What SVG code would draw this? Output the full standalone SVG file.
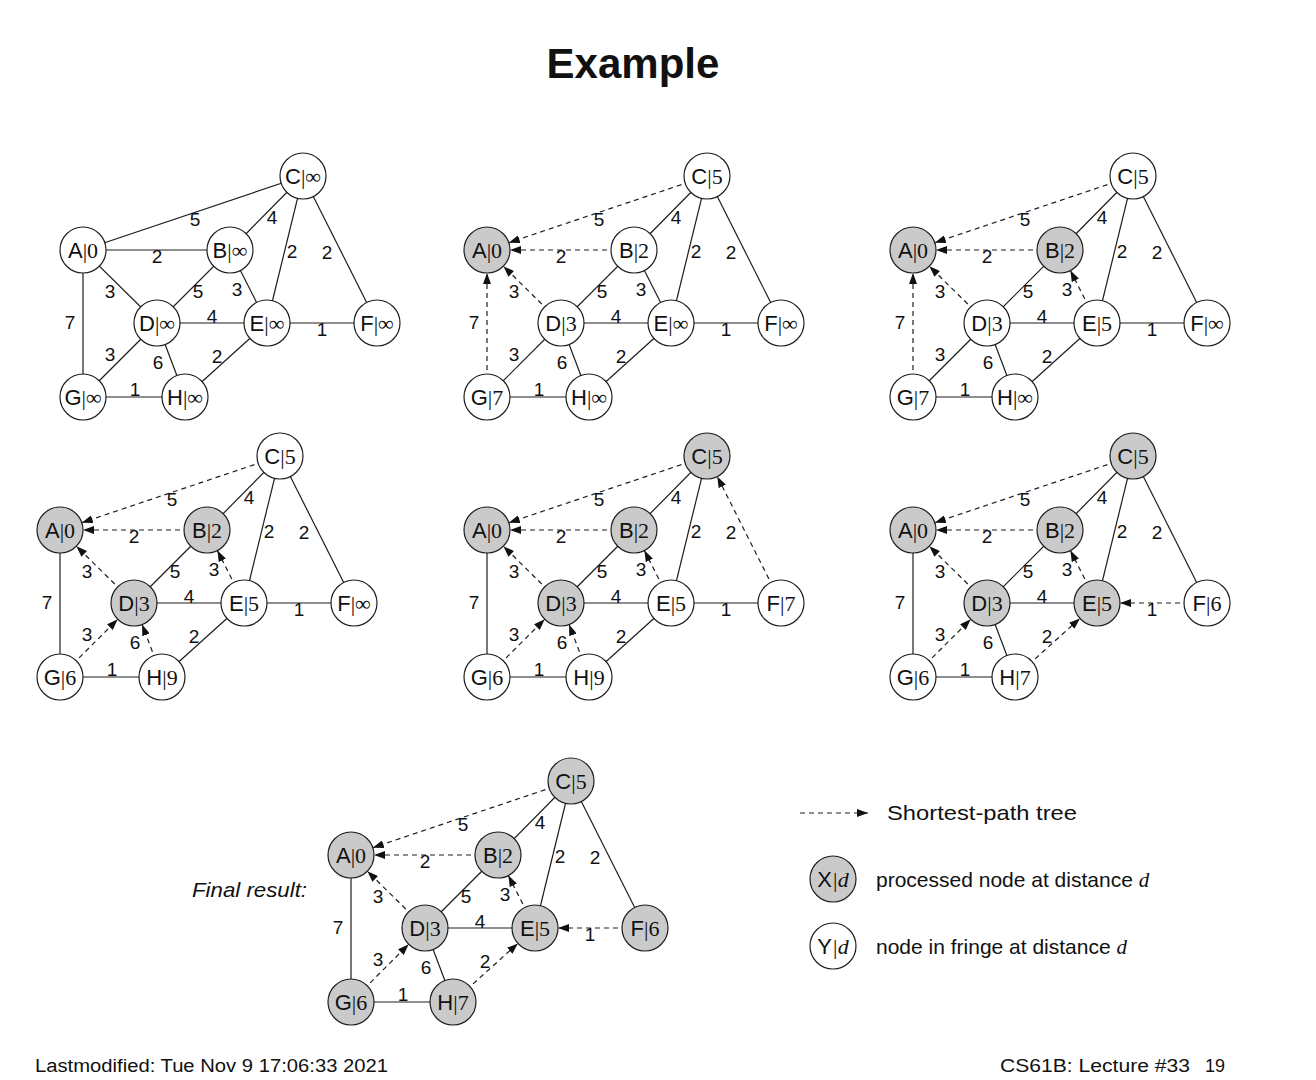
<svg xmlns="http://www.w3.org/2000/svg" width="1316" height="1080" viewBox="0 0 1316 1080">
<style>
.e{stroke:#1e1e1e;stroke-width:1.2;fill:none}
.d{stroke:#1e1e1e;stroke-width:1.2;fill:none;stroke-dasharray:5 4;marker-end:url(#ah)}
.n circle{stroke:#1e1e1e;stroke-width:1.2;fill:#ffffff}
.p circle{fill:#cacaca}
.w{font-family:"Liberation Sans",Arial,sans-serif;font-size:19px;text-anchor:middle;fill:#111}
.l{font-family:"Liberation Sans",Arial,sans-serif;font-size:22px;text-anchor:middle;fill:#111}
.s{font-family:"Liberation Serif","Times New Roman",serif}
.t{font-family:"Liberation Sans",Arial,sans-serif;fill:#111}
</style>
<defs>
<marker id="ah" markerUnits="userSpaceOnUse" markerWidth="12" markerHeight="8" refX="11" refY="4" orient="auto"><path d="M0,0 L11,4 L0,8 z" fill="#111"/></marker>
</defs>
<rect width="1316" height="1080" fill="#ffffff"/>
<text x="633" y="78" class="t" font-size="42" font-weight="bold" text-anchor="middle">Example</text>

<!-- Graph 1 -->
<g id="graph1" transform="translate(0,0)">
<g id="g1-connectors">
<path class="e" d="M83,250 L303,176"/><path class="e" d="M303,176 L230,250"/><path class="e" d="M83,250 L230,250"/><path class="e" d="M303,176 L267,323"/><path class="e" d="M303,176 L377,323"/><path class="e" d="M83,250 L157,323"/><path class="e" d="M230,250 L157,323"/><path class="e" d="M230,250 L267,323"/><path class="e" d="M83,250 L83,397"/><path class="e" d="M157,323 L267,323"/><path class="e" d="M267,323 L377,323"/><path class="e" d="M157,323 L83,397"/><path class="e" d="M157,323 L185,397"/><path class="e" d="M267,323 L185,397"/><path class="e" d="M83,397 L185,397"/>
<text class="w" x="195" y="226">5</text><text class="w" x="272" y="224">4</text><text class="w" x="157" y="263">2</text><text class="w" x="292" y="258">2</text><text class="w" x="327" y="259">2</text><text class="w" x="110" y="298">3</text><text class="w" x="198" y="298">5</text><text class="w" x="237" y="296">3</text><text class="w" x="70" y="329">7</text><text class="w" x="212" y="323">4</text><text class="w" x="322" y="336">1</text><text class="w" x="110" y="361">3</text><text class="w" x="158" y="369">6</text><text class="w" x="217" y="363">2</text><text class="w" x="135" y="396">1</text>
</g>
<g id="g1-A" class="n"><circle cx="83" cy="250" r="23"/><text class="l" x="83" y="258">A<tspan class="s">|0</tspan></text></g>
<g id="g1-B" class="n"><circle cx="230" cy="250" r="23"/><text class="l" x="230" y="258">B<tspan class="s">|∞</tspan></text></g>
<g id="g1-C" class="n"><circle cx="303" cy="176" r="23"/><text class="l" x="303" y="184">C<tspan class="s">|∞</tspan></text></g>
<g id="g1-D" class="n"><circle cx="157" cy="323" r="23"/><text class="l" x="157" y="331">D<tspan class="s">|∞</tspan></text></g>
<g id="g1-E" class="n"><circle cx="267" cy="323" r="23"/><text class="l" x="267" y="331">E<tspan class="s">|∞</tspan></text></g>
<g id="g1-F" class="n"><circle cx="377" cy="323" r="23"/><text class="l" x="377" y="331">F<tspan class="s">|∞</tspan></text></g>
<g id="g1-G" class="n"><circle cx="83" cy="397" r="23"/><text class="l" x="83" y="405">G<tspan class="s">|∞</tspan></text></g>
<g id="g1-H" class="n"><circle cx="185" cy="397" r="23"/><text class="l" x="185" y="405">H<tspan class="s">|∞</tspan></text></g>
</g>

<!-- Graph 2 -->
<g id="graph2" transform="translate(404,0)">
<g id="g2-connectors">
<path class="e" d="M303,176 L230,250"/><path class="e" d="M303,176 L267,323"/><path class="e" d="M303,176 L377,323"/><path class="e" d="M230,250 L157,323"/><path class="e" d="M230,250 L267,323"/><path class="e" d="M157,323 L267,323"/><path class="e" d="M267,323 L377,323"/><path class="e" d="M157,323 L83,397"/><path class="e" d="M157,323 L185,397"/><path class="e" d="M267,323 L185,397"/><path class="e" d="M83,397 L185,397"/>
<path class="d" d="M303,176 L104.8,242.7"/><path class="d" d="M230,250 L106,250"/><path class="d" d="M157,323 L99.4,266.2"/><path class="d" d="M83,397 L83,273"/>
<text class="w" x="195" y="226">5</text><text class="w" x="272" y="224">4</text><text class="w" x="157" y="263">2</text><text class="w" x="292" y="258">2</text><text class="w" x="327" y="259">2</text><text class="w" x="110" y="298">3</text><text class="w" x="198" y="298">5</text><text class="w" x="237" y="296">3</text><text class="w" x="70" y="329">7</text><text class="w" x="212" y="323">4</text><text class="w" x="322" y="336">1</text><text class="w" x="110" y="361">3</text><text class="w" x="158" y="369">6</text><text class="w" x="217" y="363">2</text><text class="w" x="135" y="396">1</text>
</g>
<g id="g2-A" class="n p"><circle cx="83" cy="250" r="23"/><text class="l" x="83" y="258">A<tspan class="s">|0</tspan></text></g>
<g id="g2-B" class="n"><circle cx="230" cy="250" r="23"/><text class="l" x="230" y="258">B<tspan class="s">|2</tspan></text></g>
<g id="g2-C" class="n"><circle cx="303" cy="176" r="23"/><text class="l" x="303" y="184">C<tspan class="s">|5</tspan></text></g>
<g id="g2-D" class="n"><circle cx="157" cy="323" r="23"/><text class="l" x="157" y="331">D<tspan class="s">|3</tspan></text></g>
<g id="g2-E" class="n"><circle cx="267" cy="323" r="23"/><text class="l" x="267" y="331">E<tspan class="s">|∞</tspan></text></g>
<g id="g2-F" class="n"><circle cx="377" cy="323" r="23"/><text class="l" x="377" y="331">F<tspan class="s">|∞</tspan></text></g>
<g id="g2-G" class="n"><circle cx="83" cy="397" r="23"/><text class="l" x="83" y="405">G<tspan class="s">|7</tspan></text></g>
<g id="g2-H" class="n"><circle cx="185" cy="397" r="23"/><text class="l" x="185" y="405">H<tspan class="s">|∞</tspan></text></g>
</g>

<!-- Graph 3 -->
<g id="graph3" transform="translate(830,0)">
<g id="g3-connectors">
<path class="e" d="M303,176 L230,250"/><path class="e" d="M303,176 L267,323"/><path class="e" d="M303,176 L377,323"/><path class="e" d="M230,250 L157,323"/><path class="e" d="M157,323 L267,323"/><path class="e" d="M267,323 L377,323"/><path class="e" d="M157,323 L83,397"/><path class="e" d="M157,323 L185,397"/><path class="e" d="M267,323 L185,397"/><path class="e" d="M83,397 L185,397"/>
<path class="d" d="M303,176 L104.8,242.7"/><path class="d" d="M230,250 L106,250"/><path class="d" d="M157,323 L99.4,266.2"/><path class="d" d="M83,397 L83,273"/><path class="d" d="M267,323 L240.4,270.5"/>
<text class="w" x="195" y="226">5</text><text class="w" x="272" y="224">4</text><text class="w" x="157" y="263">2</text><text class="w" x="292" y="258">2</text><text class="w" x="327" y="259">2</text><text class="w" x="110" y="298">3</text><text class="w" x="198" y="298">5</text><text class="w" x="237" y="296">3</text><text class="w" x="70" y="329">7</text><text class="w" x="212" y="323">4</text><text class="w" x="322" y="336">1</text><text class="w" x="110" y="361">3</text><text class="w" x="158" y="369">6</text><text class="w" x="217" y="363">2</text><text class="w" x="135" y="396">1</text>
</g>
<g id="g3-A" class="n p"><circle cx="83" cy="250" r="23"/><text class="l" x="83" y="258">A<tspan class="s">|0</tspan></text></g>
<g id="g3-B" class="n p"><circle cx="230" cy="250" r="23"/><text class="l" x="230" y="258">B<tspan class="s">|2</tspan></text></g>
<g id="g3-C" class="n"><circle cx="303" cy="176" r="23"/><text class="l" x="303" y="184">C<tspan class="s">|5</tspan></text></g>
<g id="g3-D" class="n"><circle cx="157" cy="323" r="23"/><text class="l" x="157" y="331">D<tspan class="s">|3</tspan></text></g>
<g id="g3-E" class="n"><circle cx="267" cy="323" r="23"/><text class="l" x="267" y="331">E<tspan class="s">|5</tspan></text></g>
<g id="g3-F" class="n"><circle cx="377" cy="323" r="23"/><text class="l" x="377" y="331">F<tspan class="s">|∞</tspan></text></g>
<g id="g3-G" class="n"><circle cx="83" cy="397" r="23"/><text class="l" x="83" y="405">G<tspan class="s">|7</tspan></text></g>
<g id="g3-H" class="n"><circle cx="185" cy="397" r="23"/><text class="l" x="185" y="405">H<tspan class="s">|∞</tspan></text></g>
</g>

<!-- Graph 4 -->
<g id="graph4" transform="translate(-23,280)">
<g id="g4-connectors">
<path class="e" d="M303,176 L230,250"/><path class="e" d="M303,176 L267,323"/><path class="e" d="M303,176 L377,323"/><path class="e" d="M230,250 L157,323"/><path class="e" d="M83,250 L83,397"/><path class="e" d="M157,323 L267,323"/><path class="e" d="M267,323 L377,323"/><path class="e" d="M267,323 L185,397"/><path class="e" d="M83,397 L185,397"/>
<path class="d" d="M303,176 L104.8,242.7"/><path class="d" d="M230,250 L106,250"/><path class="d" d="M157,323 L99.4,266.2"/><path class="d" d="M267,323 L240.4,270.5"/><path class="d" d="M83,397 L140.7,339.3"/><path class="d" d="M185,397 L165.1,344.5"/>
<text class="w" x="195" y="226">5</text><text class="w" x="272" y="224">4</text><text class="w" x="157" y="263">2</text><text class="w" x="292" y="258">2</text><text class="w" x="327" y="259">2</text><text class="w" x="110" y="298">3</text><text class="w" x="198" y="298">5</text><text class="w" x="237" y="296">3</text><text class="w" x="70" y="329">7</text><text class="w" x="212" y="323">4</text><text class="w" x="322" y="336">1</text><text class="w" x="110" y="361">3</text><text class="w" x="158" y="369">6</text><text class="w" x="217" y="363">2</text><text class="w" x="135" y="396">1</text>
</g>
<g id="g4-A" class="n p"><circle cx="83" cy="250" r="23"/><text class="l" x="83" y="258">A<tspan class="s">|0</tspan></text></g>
<g id="g4-B" class="n p"><circle cx="230" cy="250" r="23"/><text class="l" x="230" y="258">B<tspan class="s">|2</tspan></text></g>
<g id="g4-C" class="n"><circle cx="303" cy="176" r="23"/><text class="l" x="303" y="184">C<tspan class="s">|5</tspan></text></g>
<g id="g4-D" class="n p"><circle cx="157" cy="323" r="23"/><text class="l" x="157" y="331">D<tspan class="s">|3</tspan></text></g>
<g id="g4-E" class="n"><circle cx="267" cy="323" r="23"/><text class="l" x="267" y="331">E<tspan class="s">|5</tspan></text></g>
<g id="g4-F" class="n"><circle cx="377" cy="323" r="23"/><text class="l" x="377" y="331">F<tspan class="s">|∞</tspan></text></g>
<g id="g4-G" class="n"><circle cx="83" cy="397" r="23"/><text class="l" x="83" y="405">G<tspan class="s">|6</tspan></text></g>
<g id="g4-H" class="n"><circle cx="185" cy="397" r="23"/><text class="l" x="185" y="405">H<tspan class="s">|9</tspan></text></g>
</g>

<!-- Graph 5 -->
<g id="graph5" transform="translate(404,280)">
<g id="g5-connectors">
<path class="e" d="M303,176 L230,250"/><path class="e" d="M303,176 L267,323"/><path class="e" d="M230,250 L157,323"/><path class="e" d="M83,250 L83,397"/><path class="e" d="M157,323 L267,323"/><path class="e" d="M267,323 L377,323"/><path class="e" d="M267,323 L185,397"/><path class="e" d="M83,397 L185,397"/>
<path class="d" d="M303,176 L104.8,242.7"/><path class="d" d="M230,250 L106,250"/><path class="d" d="M157,323 L99.4,266.2"/><path class="d" d="M267,323 L240.4,270.5"/><path class="d" d="M83,397 L140.7,339.3"/><path class="d" d="M185,397 L165.1,344.5"/><path class="d" d="M377,323 L313.3,196.5"/>
<text class="w" x="195" y="226">5</text><text class="w" x="272" y="224">4</text><text class="w" x="157" y="263">2</text><text class="w" x="292" y="258">2</text><text class="w" x="327" y="259">2</text><text class="w" x="110" y="298">3</text><text class="w" x="198" y="298">5</text><text class="w" x="237" y="296">3</text><text class="w" x="70" y="329">7</text><text class="w" x="212" y="323">4</text><text class="w" x="322" y="336">1</text><text class="w" x="110" y="361">3</text><text class="w" x="158" y="369">6</text><text class="w" x="217" y="363">2</text><text class="w" x="135" y="396">1</text>
</g>
<g id="g5-A" class="n p"><circle cx="83" cy="250" r="23"/><text class="l" x="83" y="258">A<tspan class="s">|0</tspan></text></g>
<g id="g5-B" class="n p"><circle cx="230" cy="250" r="23"/><text class="l" x="230" y="258">B<tspan class="s">|2</tspan></text></g>
<g id="g5-C" class="n p"><circle cx="303" cy="176" r="23"/><text class="l" x="303" y="184">C<tspan class="s">|5</tspan></text></g>
<g id="g5-D" class="n p"><circle cx="157" cy="323" r="23"/><text class="l" x="157" y="331">D<tspan class="s">|3</tspan></text></g>
<g id="g5-E" class="n"><circle cx="267" cy="323" r="23"/><text class="l" x="267" y="331">E<tspan class="s">|5</tspan></text></g>
<g id="g5-F" class="n"><circle cx="377" cy="323" r="23"/><text class="l" x="377" y="331">F<tspan class="s">|7</tspan></text></g>
<g id="g5-G" class="n"><circle cx="83" cy="397" r="23"/><text class="l" x="83" y="405">G<tspan class="s">|6</tspan></text></g>
<g id="g5-H" class="n"><circle cx="185" cy="397" r="23"/><text class="l" x="185" y="405">H<tspan class="s">|9</tspan></text></g>
</g>

<!-- Graph 6 -->
<g id="graph6" transform="translate(830,280)">
<g id="g6-connectors">
<path class="e" d="M303,176 L230,250"/><path class="e" d="M303,176 L267,323"/><path class="e" d="M303,176 L377,323"/><path class="e" d="M230,250 L157,323"/><path class="e" d="M83,250 L83,397"/><path class="e" d="M157,323 L267,323"/><path class="e" d="M157,323 L185,397"/><path class="e" d="M83,397 L185,397"/>
<path class="d" d="M303,176 L104.8,242.7"/><path class="d" d="M230,250 L106,250"/><path class="d" d="M157,323 L99.4,266.2"/><path class="d" d="M267,323 L240.4,270.5"/><path class="d" d="M83,397 L140.7,339.3"/><path class="d" d="M185,397 L249.9,338.4"/><path class="d" d="M377,323 L290,323"/>
<text class="w" x="195" y="226">5</text><text class="w" x="272" y="224">4</text><text class="w" x="157" y="263">2</text><text class="w" x="292" y="258">2</text><text class="w" x="327" y="259">2</text><text class="w" x="110" y="298">3</text><text class="w" x="198" y="298">5</text><text class="w" x="237" y="296">3</text><text class="w" x="70" y="329">7</text><text class="w" x="212" y="323">4</text><text class="w" x="322" y="336">1</text><text class="w" x="110" y="361">3</text><text class="w" x="158" y="369">6</text><text class="w" x="217" y="363">2</text><text class="w" x="135" y="396">1</text>
</g>
<g id="g6-A" class="n p"><circle cx="83" cy="250" r="23"/><text class="l" x="83" y="258">A<tspan class="s">|0</tspan></text></g>
<g id="g6-B" class="n p"><circle cx="230" cy="250" r="23"/><text class="l" x="230" y="258">B<tspan class="s">|2</tspan></text></g>
<g id="g6-C" class="n p"><circle cx="303" cy="176" r="23"/><text class="l" x="303" y="184">C<tspan class="s">|5</tspan></text></g>
<g id="g6-D" class="n p"><circle cx="157" cy="323" r="23"/><text class="l" x="157" y="331">D<tspan class="s">|3</tspan></text></g>
<g id="g6-E" class="n p"><circle cx="267" cy="323" r="23"/><text class="l" x="267" y="331">E<tspan class="s">|5</tspan></text></g>
<g id="g6-F" class="n"><circle cx="377" cy="323" r="23"/><text class="l" x="377" y="331">F<tspan class="s">|6</tspan></text></g>
<g id="g6-G" class="n"><circle cx="83" cy="397" r="23"/><text class="l" x="83" y="405">G<tspan class="s">|6</tspan></text></g>
<g id="g6-H" class="n"><circle cx="185" cy="397" r="23"/><text class="l" x="185" y="405">H<tspan class="s">|7</tspan></text></g>
</g>

<!-- Graph 7 (final) -->
<text x="192" y="897" class="t" font-size="21" font-style="italic" textLength="115" lengthAdjust="spacingAndGlyphs">Final result:</text>
<g id="graph7" transform="translate(268,605)">
<g id="g7-connectors">
<path class="e" d="M303,176 L230,250"/><path class="e" d="M303,176 L267,323"/><path class="e" d="M303,176 L377,323"/><path class="e" d="M230,250 L157,323"/><path class="e" d="M83,250 L83,397"/><path class="e" d="M157,323 L267,323"/><path class="e" d="M157,323 L185,397"/><path class="e" d="M83,397 L185,397"/>
<path class="d" d="M303,176 L104.8,242.7"/><path class="d" d="M230,250 L106,250"/><path class="d" d="M157,323 L99.4,266.2"/><path class="d" d="M267,323 L240.4,270.5"/><path class="d" d="M83,397 L140.7,339.3"/><path class="d" d="M185,397 L249.9,338.4"/><path class="d" d="M377,323 L290,323"/>
<text class="w" x="195" y="226">5</text><text class="w" x="272" y="224">4</text><text class="w" x="157" y="263">2</text><text class="w" x="292" y="258">2</text><text class="w" x="327" y="259">2</text><text class="w" x="110" y="298">3</text><text class="w" x="198" y="298">5</text><text class="w" x="237" y="296">3</text><text class="w" x="70" y="329">7</text><text class="w" x="212" y="323">4</text><text class="w" x="322" y="336">1</text><text class="w" x="110" y="361">3</text><text class="w" x="158" y="369">6</text><text class="w" x="217" y="363">2</text><text class="w" x="135" y="396">1</text>
</g>
<g id="g7-A" class="n p"><circle cx="83" cy="250" r="23"/><text class="l" x="83" y="258">A<tspan class="s">|0</tspan></text></g>
<g id="g7-B" class="n p"><circle cx="230" cy="250" r="23"/><text class="l" x="230" y="258">B<tspan class="s">|2</tspan></text></g>
<g id="g7-C" class="n p"><circle cx="303" cy="176" r="23"/><text class="l" x="303" y="184">C<tspan class="s">|5</tspan></text></g>
<g id="g7-D" class="n p"><circle cx="157" cy="323" r="23"/><text class="l" x="157" y="331">D<tspan class="s">|3</tspan></text></g>
<g id="g7-E" class="n p"><circle cx="267" cy="323" r="23"/><text class="l" x="267" y="331">E<tspan class="s">|5</tspan></text></g>
<g id="g7-F" class="n p"><circle cx="377" cy="323" r="23"/><text class="l" x="377" y="331">F<tspan class="s">|6</tspan></text></g>
<g id="g7-G" class="n p"><circle cx="83" cy="397" r="23"/><text class="l" x="83" y="405">G<tspan class="s">|6</tspan></text></g>
<g id="g7-H" class="n p"><circle cx="185" cy="397" r="23"/><text class="l" x="185" y="405">H<tspan class="s">|7</tspan></text></g>
</g>

<!-- Legend -->
<g id="legend">
<path class="d" d="M800,813 L868,813"/>
<text x="887" y="820" class="t" font-size="21" textLength="190" lengthAdjust="spacingAndGlyphs">Shortest-path tree</text>
<g id="legend-X" class="n p"><circle cx="833" cy="879" r="23"/><text class="l" x="833" y="887">X<tspan class="s" font-style="italic">|d</tspan></text></g>
<text x="876" y="887" class="t" font-size="21">processed node at distance <tspan class="s" font-style="italic">d</tspan></text>
<g id="legend-Y" class="n"><circle cx="833" cy="946" r="23"/><text class="l" x="833" y="954">Y<tspan class="s" font-style="italic">|d</tspan></text></g>
<text x="876" y="954" class="t" font-size="21">node in fringe at distance <tspan class="s" font-style="italic">d</tspan></text>
</g>

<!-- Footer -->
<text x="35" y="1072" class="t" font-size="18" textLength="353" lengthAdjust="spacingAndGlyphs">Lastmodified: Tue Nov 9 17:06:33 2021</text>
<text x="1000" y="1072" class="t" font-size="18" textLength="190" lengthAdjust="spacingAndGlyphs">CS61B: Lecture #33</text>
<text x="1205" y="1072" class="t" font-size="18">19</text>
</svg>
